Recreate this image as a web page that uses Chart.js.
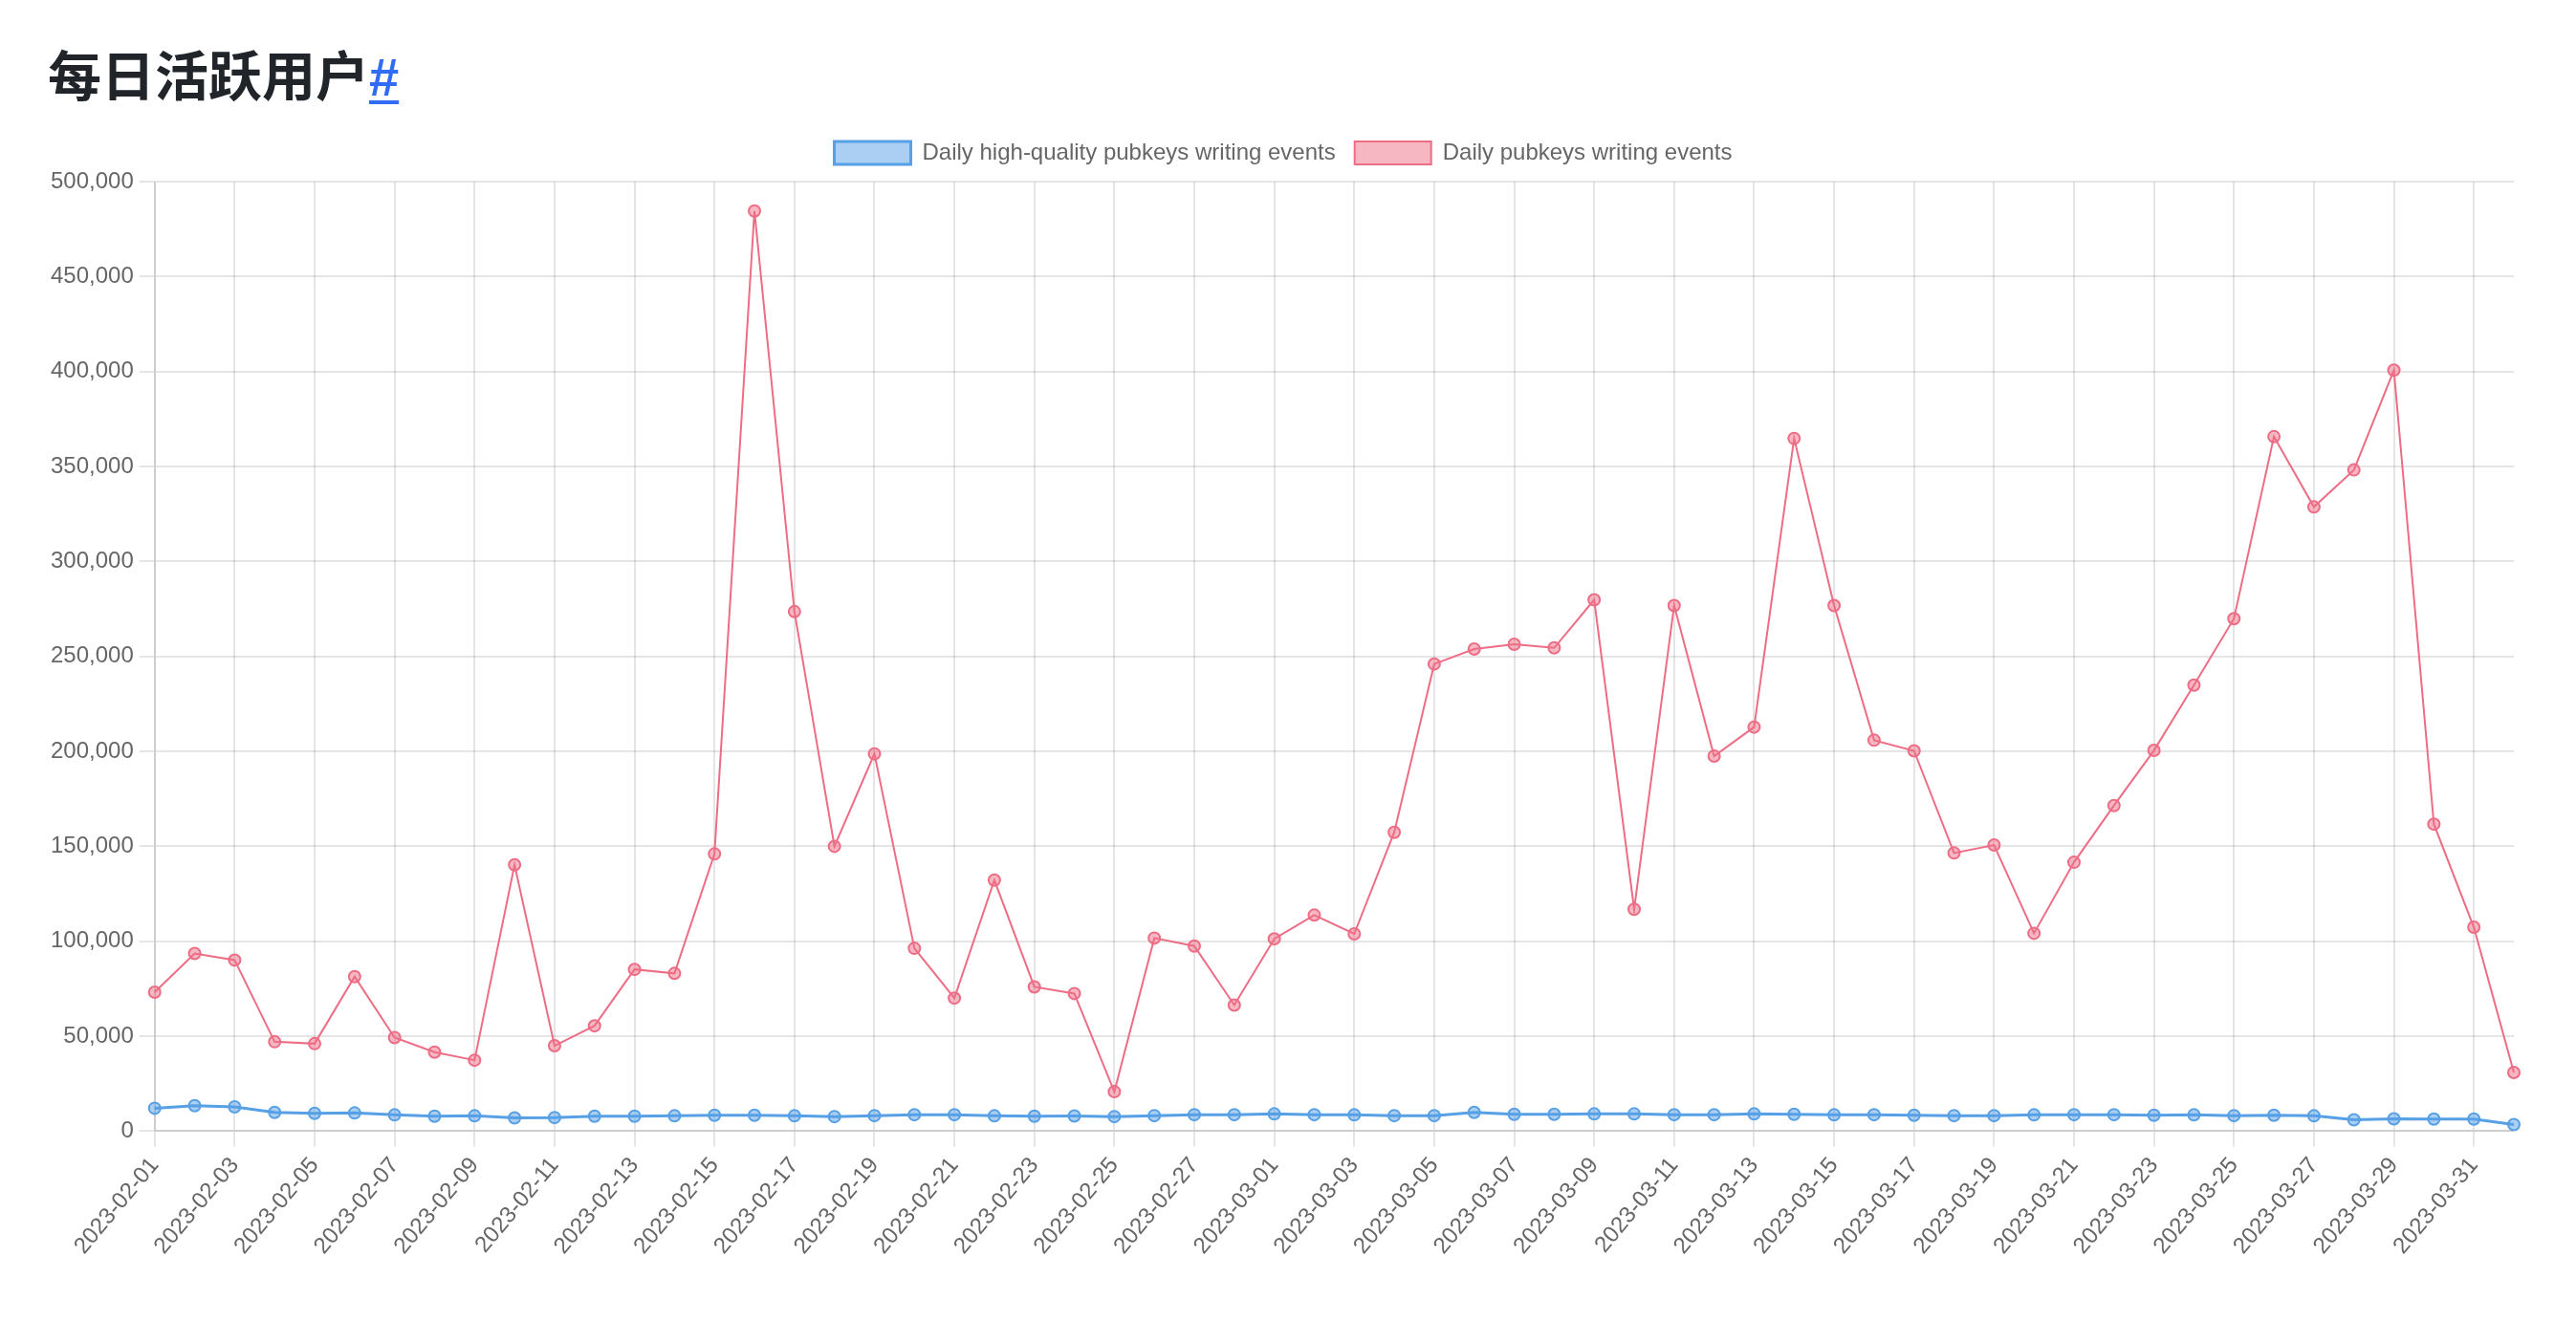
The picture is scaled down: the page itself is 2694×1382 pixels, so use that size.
<!DOCTYPE html>
<html>
<head>
<meta charset="utf-8">
<script src="https://cdn.jsdelivr.net/npm/chart.js@4"></script>
<style>
  html, body { margin: 0; padding: 0; background: #fff; overflow: hidden; }
  #title {
    position: absolute; left: 50px; top: 53px; margin: 0;
    font-family: "Liberation Sans", Arial, "Noto Sans CJK SC", sans-serif;
    font-weight: 700; font-size: 56px; line-height: 1; color: #212529;
    white-space: nowrap;
  }
  #title a { color: rgb(49, 108, 244); text-decoration: underline; text-decoration-thickness: 4px; text-underline-offset: 5px; }
  #wrap { position: absolute; left: 47px; top: 128px; width: 2607px; height: 1196px; }
</style>
</head>
<body>
<h3 id="title">每日活跃用户<a href="#">#</a></h3>
<div id="wrap"><canvas id="c"></canvas></div>
<script>
const labels = [
  "2023-02-01","2023-02-02","2023-02-03","2023-02-04","2023-02-05","2023-02-06","2023-02-07","2023-02-08","2023-02-09","2023-02-10",
  "2023-02-11","2023-02-12","2023-02-13","2023-02-14","2023-02-15","2023-02-16","2023-02-17","2023-02-18","2023-02-19","2023-02-20",
  "2023-02-21","2023-02-22","2023-02-23","2023-02-24","2023-02-25","2023-02-26","2023-02-27","2023-02-28","2023-03-01","2023-03-02",
  "2023-03-03","2023-03-04","2023-03-05","2023-03-06","2023-03-07","2023-03-08","2023-03-09","2023-03-10","2023-03-11","2023-03-12",
  "2023-03-13","2023-03-14","2023-03-15","2023-03-16","2023-03-17","2023-03-18","2023-03-19","2023-03-20","2023-03-21","2023-03-22",
  "2023-03-23","2023-03-24","2023-03-25","2023-03-26","2023-03-27","2023-03-28","2023-03-29","2023-03-30","2023-03-31","2023-04-01"
];
const highQualityEvents = [
  12100,13400,12800,9900,9400,9600,8600,7900,8100,7000,
  7200,7900,7900,8100,8400,8400,8100,7700,8200,8700,
  8700,8100,7900,8000,7700,8200,8700,8700,9100,8700,
  8600,8200,8200,9900,8900,8900,9100,9100,8700,8700,
  9100,8900,8600,8700,8400,8200,8200,8600,8700,8700,
  8400,8600,8200,8400,8100,6000,6500,6400,6400,3500
];
const allEvents = [
  73200,93600,90100,47100,46100,81400,49300,41600,37400,140300,
  45000,55500,85200,83100,146000,484500,273600,150000,198700,96300,
  70100,132200,76000,72500,20800,101700,97500,66400,101300,113800,
  103900,157400,246000,253900,256400,254500,279800,116900,276800,197500,
  212800,364800,276800,205900,200300,146500,150700,104200,141600,171500,
  200500,234900,269900,365700,328700,348200,400700,161700,107400,30900
];
const seriesNames = ["Daily high-quality pubkeys writing events", "Daily pubkeys writing events"];
const yTicks = { min: 0, max: 500000, step: 50000 };

Chart.defaults.font.family = "'Helvetica Neue', 'Helvetica', 'Liberation Sans', Arial, sans-serif";
Chart.defaults.font.size = 24;
Chart.defaults.color = '#666';

const legendSpacer = {
  id: 'legendSpacer',
  beforeInit(chart) {
    const lg = chart.legend;
    const origFit = lg.fit;
    lg.fit = function () { origFit.call(this); this.height += 8; };
    const origDraw = lg.draw;
    lg.draw = function (area) {
      const ctx = this.ctx;
      ctx.save();
      ctx.translate(4, 0);
      origDraw.call(this, area);
      ctx.restore();
    };
  }
};

new Chart(document.getElementById('c'), {
  type: 'line',
  data: {
    labels: labels,
    datasets: [
      {
        label: seriesNames[0], data: highQualityEvents,
        borderColor: 'rgb(87, 160, 229)', backgroundColor: 'rgba(87, 160, 229, 0.5)',
        borderWidth: 3, pointRadius: 6, pointBorderWidth: 2, tension: 0
      },
      {
        label: seriesNames[1], data: allEvents,
        borderColor: 'rgb(237, 109, 133)', backgroundColor: 'rgba(237, 109, 133, 0.5)',
        borderWidth: 2, pointRadius: 6, pointBorderWidth: 2, tension: 0
      }
    ]
  },
  plugins: [legendSpacer],
  options: {
    responsive: true, maintainAspectRatio: false, devicePixelRatio: 1, animation: false,
    layout: { padding: { right: 25 } },
    plugins: {
      legend: { labels: { boxWidth: 80, boxHeight: 24, padding: 20 } },
      tooltip: { enabled: false }
    },
    scales: {
      x: {
        grid: { lineWidth: 2, tickLength: 16 },
        border: { width: 2 },
        ticks: { padding: 6, autoSkipPadding: 6, maxRotation: 50 }
      },
      y: {
        min: yTicks.min, max: yTicks.max,
        grid: { lineWidth: 2, tickLength: 16 },
        border: { width: 2 },
        ticks: { padding: 6, stepSize: yTicks.step }
      }
    }
  }
});
</script>
</body>
</html>
